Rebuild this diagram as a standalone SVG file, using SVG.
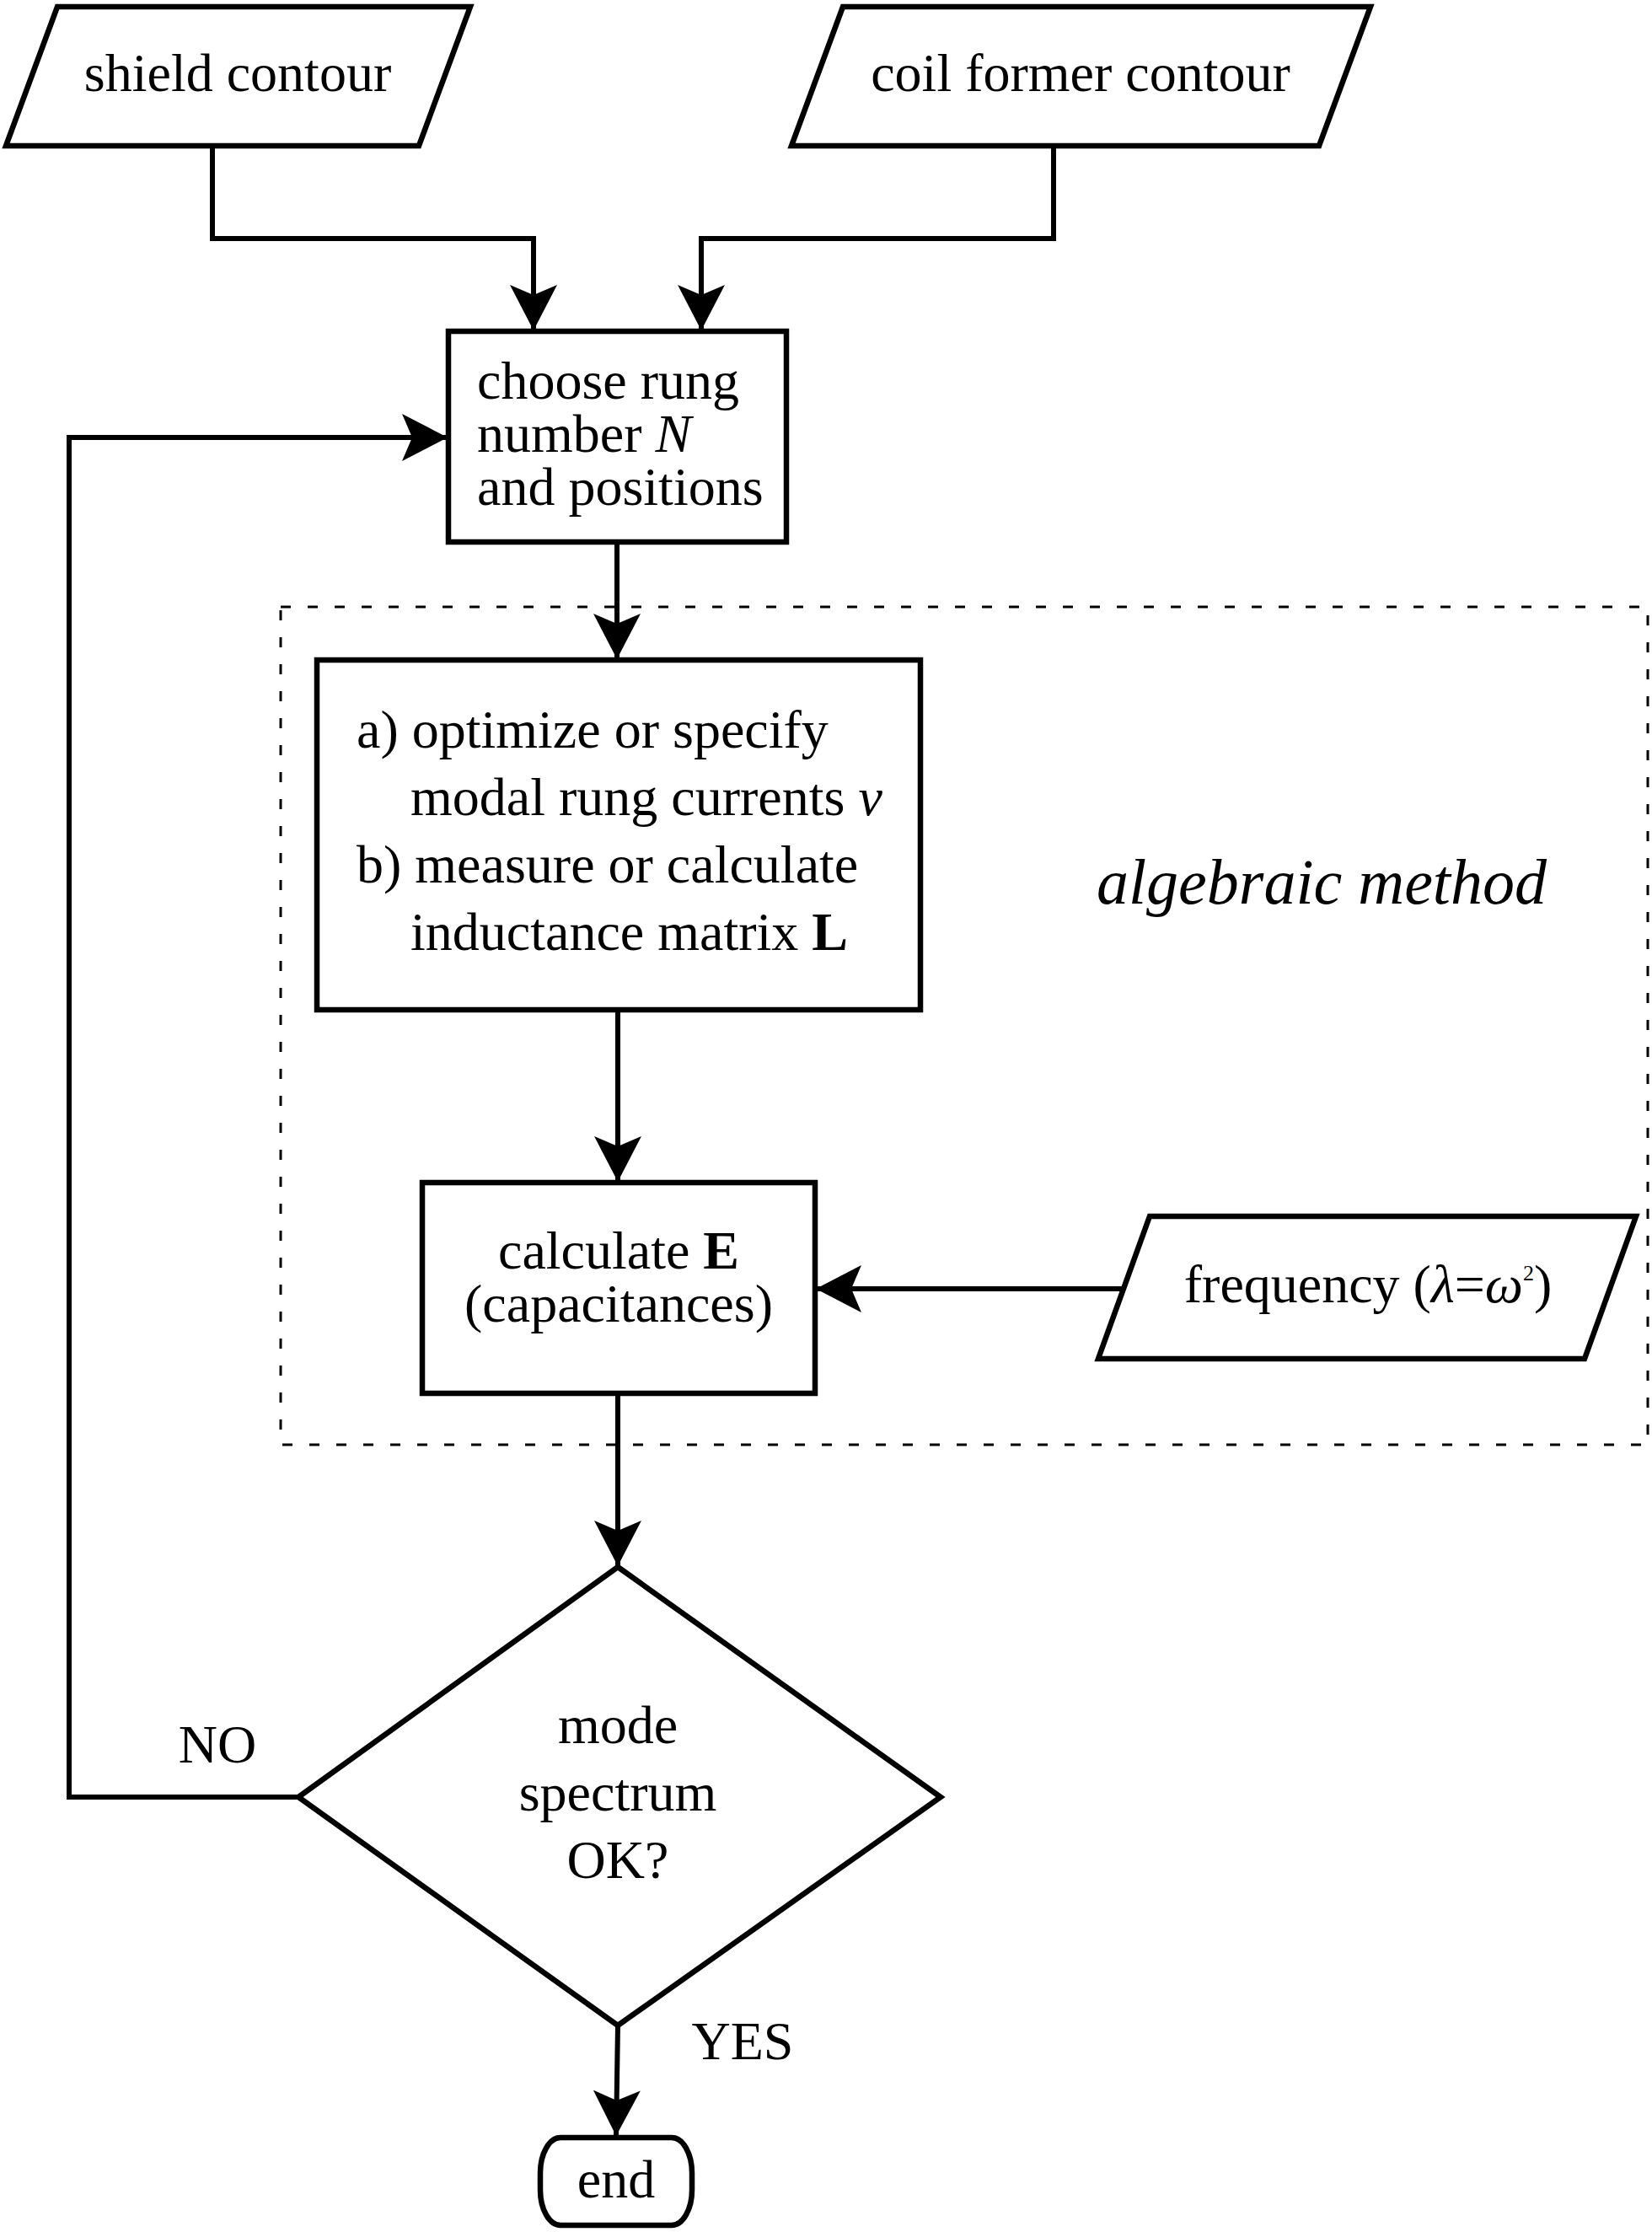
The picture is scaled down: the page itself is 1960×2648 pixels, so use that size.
<svg xmlns="http://www.w3.org/2000/svg" width="1960" height="2648" viewBox="0 0 1960 2648">
<style>
  .node { fill: #ffffff; stroke: #000000; stroke-width: 6.5; stroke-linejoin: miter; }
  .conn { fill: none; stroke: #000000; stroke-width: 6; stroke-linejoin: miter; }
  .arr { marker-end: url(#arrow); }
  .frame { fill: none; stroke: #000000; stroke-width: 3; stroke-dasharray: 12 20; }
  .t { font-family: "Liberation Serif", "Times New Roman", serif; font-size: 64px; fill: #000000; }
  .c { text-anchor: middle; }
  .i { font-style: italic; }
  .b { font-weight: bold; }
</style>
<defs>
  <marker id="arrow" markerUnits="userSpaceOnUse" viewBox="0 0 54 56" refX="53" refY="28" markerWidth="54" markerHeight="56" orient="auto">
    <path d="M0,0 L54,28 L0,56 L12,28 Z" fill="#000000"/>
  </marker>
</defs>
<rect width="1960" height="2648" fill="#ffffff"/>

<g id="algebraic-method-frame">
  <rect class="frame" x="333" y="720" width="1622" height="994"/>
  <text class="t i c" x="1568" y="1072" style="font-size:76px">algebraic method</text>
</g>

<g id="connectors">
  <path class="conn arr" d="M252 173 V283 H633 V391"/>
  <path class="conn arr" d="M1250 173 V283 H832 V391"/>
  <path class="conn arr" d="M354 2132 H82 V519 H530"/>
  <path class="conn arr" d="M732 643 V781"/>
  <path class="conn arr" d="M733 1198 V1401"/>
  <path class="conn arr" d="M1333 1529 H969"/>
  <path class="conn arr" d="M733 1653 V1857"/>
  <path class="conn arr" d="M733 2403 L731 2533"/>
</g>

<g id="shield-contour">
  <polygon class="node" points="68,8 558,8 497,173 7,173"/>
  <text class="t c" x="282" y="108">shield contour</text>
</g>

<g id="coil-former-contour">
  <polygon class="node" points="1000,8 1626,8 1565,173 939,173"/>
  <text class="t c" x="1282" y="108">coil former contour</text>
</g>

<g id="choose-rung">
  <rect class="node" x="532" y="393" width="401" height="250"/>
  <text class="t" x="566" y="473">choose rung</text>
  <text class="t" x="566" y="536">number <tspan class="i">N</tspan></text>
  <text class="t" x="566" y="599">and positions</text>
</g>

<g id="optimize-measure">
  <rect class="node" x="376" y="783" width="716" height="415"/>
  <text class="t" x="423" y="887">a) optimize or specify</text>
  <text class="t" x="487" y="967">modal rung currents <tspan class="i">v</tspan></text>
  <text class="t" x="423" y="1047">b) measure or calculate</text>
  <text class="t" x="487" y="1127">inductance matrix <tspan class="b">L</tspan></text>
</g>

<g id="calculate-E">
  <rect class="node" x="501" y="1403" width="466" height="250"/>
  <text class="t c" x="734" y="1505">calculate <tspan class="b">E</tspan></text>
  <text class="t c" x="734" y="1568">(capacitances)</text>
</g>

<g id="frequency">
  <polygon class="node" points="1364,1443 1941,1443 1880,1612 1303,1612"/>
  <text class="t c" x="1623" y="1545">frequency (<tspan class="i">λ</tspan>=<tspan class="i">ω</tspan><tspan dy="-26" style="font-size:26px">2</tspan><tspan dy="26">)</tspan></text>
</g>

<g id="mode-spectrum-ok">
  <polygon class="node" points="733,1859 1116,2132 733,2403 354,2132"/>
  <text class="t c" x="733" y="2068">mode</text>
  <text class="t c" x="733" y="2148">spectrum</text>
  <text class="t c" x="733" y="2228">OK?</text>
</g>

<g id="labels">
  <text class="t c" x="258" y="2091">NO</text>
  <text class="t c" x="881" y="2443">YES</text>
</g>

<g id="end">
  <rect class="node" x="641" y="2536" width="180" height="104" rx="24" ry="42"/>
  <text class="t c" x="731" y="2607">end</text>
</g>
</svg>
